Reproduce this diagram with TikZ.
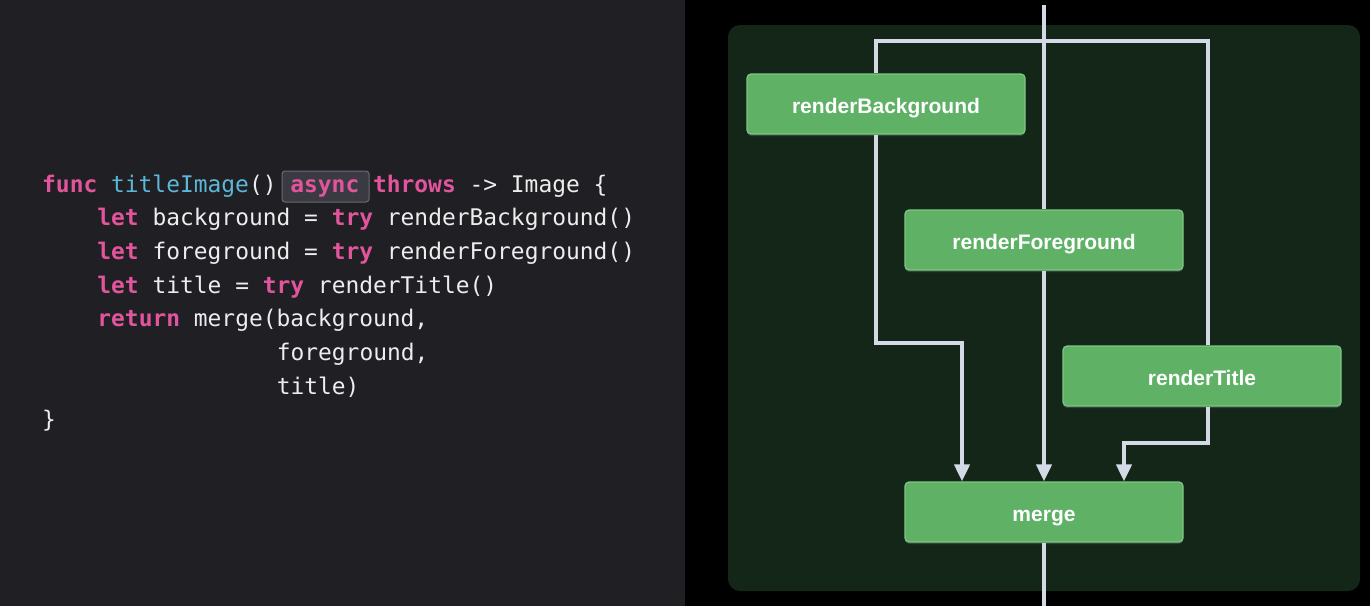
\documentclass[tikz,border=0pt]{standalone}
\usepackage{fontspec}
\setmainfont{Liberation Sans}
\setmonofont{DejaVu Sans Mono}
\usetikzlibrary{arrows.meta,shadows}
\definecolor{leftbg}{HTML}{1F1F24}
\definecolor{panelc}{HTML}{142617}
\definecolor{nodefill}{HTML}{5FB166}
\definecolor{nodeedge}{HTML}{7EC783}
\definecolor{wirec}{HTML}{D3DAE6}
\definecolor{kwc}{HTML}{E2559C}
\definecolor{fnc}{HTML}{5CB7D8}
\definecolor{codec}{HTML}{EDEDED}
\definecolor{asyncfill}{HTML}{3A3A42}
\definecolor{asyncedge}{HTML}{6B6B73}
\newcommand{\kwd}[1]{\textcolor{kwc}{\bfseries #1}}
\newcommand{\fnm}[1]{\textcolor{fnc}{#1}}
\begin{document}
\begin{tikzpicture}[x=1pt,y=-1pt,
  codeline/.style={anchor=base west, inner sep=0pt, font=\ttfamily\fontsize{22.9}{27}\selectfont, text=codec},
  task/.style={rectangle, rounded corners=4pt, fill=nodefill, draw=nodeedge, line width=1.2pt,
    minimum width=278pt, minimum height=60pt, text height=18pt, text depth=0pt,
    text=white, font=\bfseries\fontsize{21}{25}\selectfont,
    drop shadow={opacity=0.3, shadow xshift=0pt, shadow yshift=-2pt}},
  wire/.style={draw=wirec, line width=4pt, line join=miter},
  arr/.style={wire, -{Triangle[width=15pt,length=17pt]}}]
\useasboundingbox (0,0) rectangle (1370,606);
\fill[leftbg] (0,0) rectangle (685,606);
\fill[black] (685,0) rectangle (1370,606);
\fill[panelc, rounded corners=12pt] (728,25) rectangle (1360,591);

% code
\draw[fill=asyncfill, draw=asyncedge, line width=1pt, rounded corners=3pt] (282,171) rectangle (369,202);
\node[codeline] (l1) at (42,192) {\kwd{func} \fnm{titleImage}() \kwd{async} \kwd{throws} -> Image \{};
\node[codeline] (l2) at (97.2,225.7) {\kwd{let} background = \kwd{try} renderBackground()};
\node[codeline] (l3) at (97.2,259.4) {\kwd{let} foreground = \kwd{try} renderForeground()};
\node[codeline] (l4) at (97.2,293.1) {\kwd{let} title = \kwd{try} renderTitle()};
\node[codeline] (l5) at (97.2,326.8) {\kwd{return} merge(background,};
\node[codeline] (l6) at (276.6,360.5) {foreground,};
\node[codeline] (l7) at (276.6,394.2) {title)};
\node[codeline] (l8) at (42,427.9) {\}};

% graph
\node[task] (rb) at (886,104) {renderBackground};
\node[task] (rf) at (1044,240) {renderForeground};
\node[task] (rt) at (1202,376) {renderTitle};
\node[task] (mg) at (1044,512) {merge};

\coordinate (top) at (1044,5);
\coordinate (bot) at (1044,606);
\coordinate (tl) at (876,41);
\coordinate (tr) at (1208,41);
\coordinate (b1) at (962,343);
\coordinate (b2) at (1124,443);

\draw[wire] (top) -- (rf.north);
\draw[arr] (rf.south) -- (mg.north);
\draw[wire] (mg.south) -- (bot);
\draw[wire] (tl |- rb.north) -- (tl) -- (tr) -- (tr |- rt.north);
\draw[arr] (tl |- rb.south) |- (b1) -- (b1 |- mg.north);
\draw[arr] (tr |- rt.south) |- (b2) -- (b2 |- mg.north);
\end{tikzpicture}
\end{document}
